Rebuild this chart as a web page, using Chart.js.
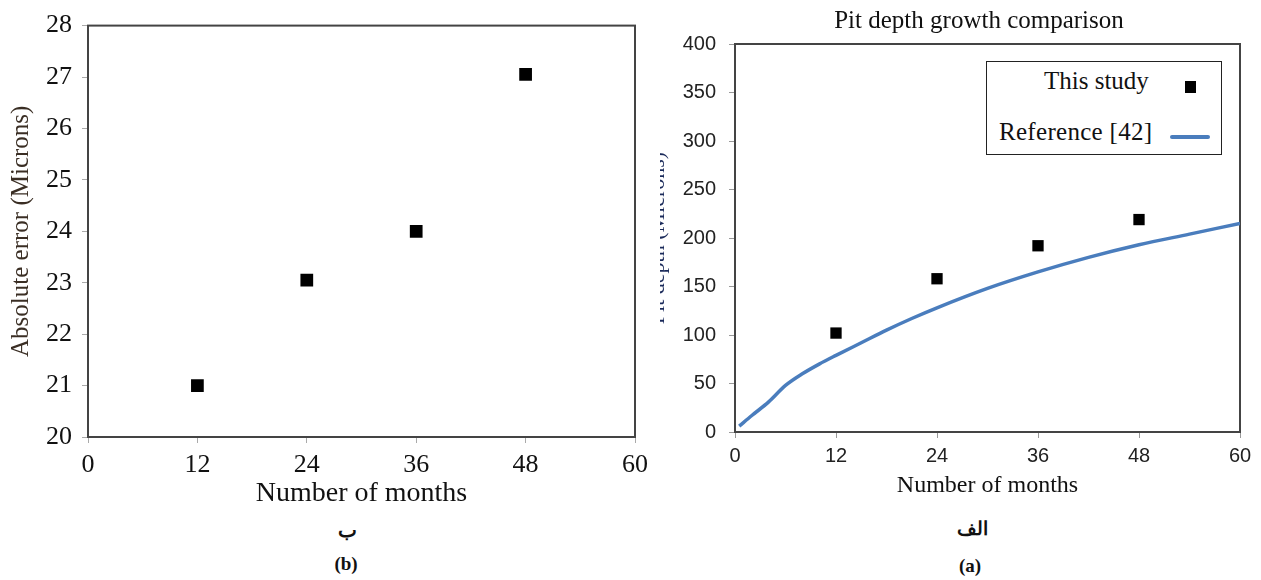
<!DOCTYPE html>
<html lang="en">
<head>
<meta charset="UTF-8">
<title>Pit depth growth</title>
<script src="https://cdn.jsdelivr.net/npm/chart.js"></script>
<style>
    body { margin: 0; background: #fff; width: 1261px; height: 580px; overflow: hidden; position: relative; }
    .caja { position: absolute; }
    .txt { position: absolute; transform: translate(-50%, -50%); white-space: nowrap; color: #111; }
    .serif { font-family: "Liberation Serif", "Times New Roman", serif; }
    .leyenda { position: absolute; left: 986px; top: 61px; width: 236px; height: 94px; border: 1.5px solid #222; box-sizing: border-box; background: #fff; }
</style>
</head>
<body>
    <div class="caja" style="left:0; top:0;"><canvas id="graficoB" width="660" height="515"></canvas></div>
    <div class="caja" style="left:660px; top:0;"><canvas id="graficoA" width="601" height="515"></canvas></div>

    <div class="txt serif" style="left:979px; top:20px; font-size:25px;">Pit depth growth comparison</div>

    <div class="leyenda">
        <span class="serif" style="position:absolute; left:57px; top:5px; font-size:25px; color:#111;">This study</span>
        <div style="position:absolute; left:198px; top:19px; width:11px; height:12px; background:#000;"></div>
        <span class="serif" style="position:absolute; left:12px; top:56px; font-size:25px; color:#111; letter-spacing:0.3px;">Reference [42]</span>
        <div style="position:absolute; left:183px; top:73px; width:40px; height:4px; border-radius:2px; background:#4a7dbd;"></div>
    </div>

    <div class="txt serif" style="left:347px; top:530px; font-size:20px; font-weight:bold;">ب</div>
    <div class="txt serif" style="left:346px; top:564px; font-size:19px; font-weight:bold;">(b)</div>
    <div class="txt serif" style="left:972px; top:528px; font-size:19px; font-weight:bold;">الف</div>
    <div class="txt serif" style="left:970px; top:566px; font-size:19px; font-weight:bold;">(a)</div>

<script>
    // (b) absolute error
    const mesesB = [12, 24, 36, 48];
    const errorAbs = [21, 23.05, 24, 27.05];

    // (a) pit depth: this study vs reference [42]
    const mesesA = [12, 24, 36, 48];
    const profundidad = [102, 158, 192, 219];
    const mesesRef = [0.5, 2, 4, 6, 8, 10, 12, 15, 18, 21, 24, 30, 36, 42, 48, 54, 60];
    const profundidadRef = [6, 17, 31, 48, 60, 70, 79, 92, 105, 117, 128, 148, 165, 180, 193, 204, 215];

    const ticksMeses = [0, 12, 24, 36, 48, 60];

    const serif = "'Liberation Serif', 'Times New Roman', serif";
    const sans = "'Liberation Sans', Arial, sans-serif";

    function puntos(xs, ys) {
        return xs.map((x, i) => ({ x: x, y: ys[i] }));
    }

    // frame around the plot area
    const marco = {
        id: 'marco',
        beforeDatasetsDraw(chart, args, opts) {
            const { ctx, chartArea: a } = chart;
            ctx.save();
            ctx.strokeStyle = opts.color;
            ctx.lineWidth = opts.width;
            ctx.strokeRect(a.left, a.top, a.right - a.left, a.bottom - a.top);
            ctx.restore();
        }
    };

    new Chart(document.getElementById('graficoB'), {
        type: 'scatter',
        data: {
            datasets: [{
                data: puntos(mesesB, errorAbs),
                pointStyle: 'rect',
                pointRadius: 9,
                backgroundColor: '#000',
                borderWidth: 0
            }]
        },
        options: {
            responsive: false,
            animation: false,
            layout: { padding: { top: 20, right: 25, left: 0, bottom: 0 } },
            plugins: {
                legend: { display: false },
                tooltip: { enabled: false },
                marco: { color: '#444', width: 2 }
            },
            scales: {
                x: {
                    type: 'linear', min: 0, max: 60,
                    afterBuildTicks: s => { s.ticks = ticksMeses.map(v => ({ value: v })); },
                    afterFit: s => { s.height = 78; },
                    border: { display: false },
                    grid: { drawOnChartArea: false, tickLength: 6, color: '#aaa' },
                    ticks: { font: { family: serif, size: 26 }, color: '#111', padding: 7, maxRotation: 0 },
                    title: { display: true, text: 'Number of months', font: { family: serif, size: 28 }, color: '#111', padding: { top: 0, bottom: 5 } }
                },
                y: {
                    min: 20, max: 28,
                    afterFit: s => { s.width = 88; },
                    border: { display: false },
                    grid: { drawOnChartArea: false, tickLength: 6, color: '#aaa' },
                    ticks: { stepSize: 1, font: { family: serif, size: 26 }, color: '#111', padding: 10 },
                    title: { display: true, text: 'Absolute error (Microns)', font: { family: serif, size: 25 }, color: '#3a2e24', padding: { top: 6, bottom: 0 } }
                }
            }
        },
        plugins: [marco]
    });

    new Chart(document.getElementById('graficoA'), {
        type: 'scatter',
        data: {
            datasets: [{
                label: 'This study',
                data: puntos(mesesA, profundidad),
                pointStyle: 'rect',
                pointRadius: 8,
                backgroundColor: '#000',
                borderWidth: 0
            }, {
                label: 'Reference [42]',
                type: 'line',
                data: puntos(mesesRef, profundidadRef),
                borderColor: '#4a7dbd',
                borderWidth: 3.5,
                pointRadius: 0,
                tension: 0.4,
                cubicInterpolationMode: 'monotone',
                fill: false
            }]
        },
        options: {
            responsive: false,
            animation: false,
            layout: { padding: { top: 44, right: 21, left: 0, bottom: 0 } },
            plugins: {
                legend: { display: false },
                tooltip: { enabled: false },
                marco: { color: '#444', width: 2 }
            },
            scales: {
                x: {
                    type: 'linear', min: 0, max: 60,
                    afterBuildTicks: s => { s.ticks = ticksMeses.map(v => ({ value: v })); },
                    afterFit: s => { s.height = 83; },
                    border: { display: false },
                    grid: { drawOnChartArea: false, tickLength: 6, color: '#999' },
                    ticks: { font: { family: sans, size: 20 }, color: '#222', padding: 6, maxRotation: 0 },
                    title: { display: true, text: 'Number of months', font: { family: serif, size: 24 }, color: '#111', padding: { top: 0, bottom: 15 } }
                },
                y: {
                    min: 0, max: 400,
                    afterFit: s => { s.width = 75; },
                    border: { display: false },
                    grid: { drawOnChartArea: false, tickLength: 6, color: '#999' },
                    ticks: { stepSize: 50, font: { family: sans, size: 20 }, color: '#222', padding: 13 },
                    title: { display: true, text: 'Pit depth (Microns)', font: { family: serif, size: 22 }, color: '#1a2a5a', padding: { top: -15, bottom: 0 } }
                }
            }
        },
        plugins: [marco]
    });
</script>
</body>
</html>
